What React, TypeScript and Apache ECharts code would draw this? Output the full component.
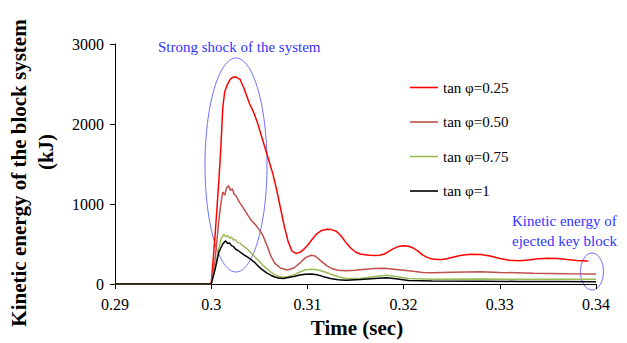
import React, { useEffect, useRef } from "react";
import * as echarts from "echarts";

const seriesNames = ["tan φ=0.25", "tan φ=0.50", "tan φ=0.75", "tan φ=1"];
const seriesColors = ["#ff0000", "#c0504d", "#9bbb59", "#000000"];

const xTicks = [0.29, 0.3, 0.31, 0.32, 0.33, 0.34];
const yTicks = [0, 1000, 2000, 3000];

const t025 = [0.29, 0.3, 0.3004, 0.3008, 0.301, 0.3012, 0.3014, 0.3016, 0.3018, 0.302, 0.3022, 0.3024, 0.3026, 0.3028, 0.303, 0.3032, 0.3034, 0.3036, 0.304, 0.3044, 0.3048, 0.3052, 0.3056, 0.306, 0.3064, 0.3068, 0.3072, 0.3076, 0.308, 0.3084, 0.3088, 0.3092, 0.3096, 0.31, 0.3105, 0.311, 0.3115, 0.312, 0.3125, 0.313, 0.3135, 0.314, 0.3145, 0.315, 0.3155, 0.316, 0.3165, 0.317, 0.3175, 0.318, 0.3185, 0.319, 0.3195, 0.32, 0.3205, 0.321, 0.3215, 0.322, 0.3225, 0.323, 0.3235, 0.324, 0.3245, 0.325, 0.326, 0.327, 0.328, 0.329, 0.33, 0.331, 0.332, 0.333, 0.334, 0.335, 0.336, 0.337, 0.338, 0.3392];
const v025 = [0, 0, 600, 1300, 1700, 2200, 2400, 2470, 2520, 2560, 2580, 2590, 2585, 2570, 2560, 2500, 2450, 2380, 2250, 2150, 2020, 1860, 1700, 1540, 1380, 1180, 950, 720, 530, 410, 382, 395, 430, 480, 560, 630, 670, 685, 680, 660, 600, 520, 450, 400, 375, 365, 358, 355, 360, 375, 410, 445, 470, 478, 472, 450, 410, 360, 330, 312, 305, 306, 315, 330, 360, 372, 370, 350, 320, 298, 292, 300, 315, 321, 318, 305, 293, 287];

const t050 = [0.29, 0.3, 0.3004, 0.3008, 0.301, 0.3012, 0.3014, 0.3016, 0.3018, 0.302, 0.3022, 0.3024, 0.3026, 0.3028, 0.303, 0.3034, 0.3038, 0.3042, 0.3046, 0.305, 0.3054, 0.3058, 0.3062, 0.3066, 0.3072, 0.3079, 0.3086, 0.3092, 0.3098, 0.3104, 0.3108, 0.3114, 0.312, 0.3126, 0.3132, 0.314, 0.315, 0.316, 0.317, 0.318, 0.319, 0.32, 0.321, 0.322, 0.323, 0.325, 0.328, 0.33, 0.3335, 0.337, 0.34];
const v050 = [0, 0, 300, 800, 1000, 1150, 1110, 1200, 1230, 1170, 1190, 1120, 1100, 1050, 1010, 940, 860, 790, 740, 680, 600, 480, 350, 260, 200, 175, 200, 260, 330, 360, 350, 290, 230, 190, 172, 166, 172, 185, 195, 198, 185, 172, 158, 145, 141, 148, 154, 145, 134, 128, 125];

const t075 = [0.29, 0.3, 0.3004, 0.3008, 0.301, 0.3013, 0.3015, 0.3017, 0.3019, 0.3021, 0.3023, 0.3025, 0.3027, 0.303, 0.3034, 0.3038, 0.3042, 0.3046, 0.305, 0.3054, 0.3058, 0.3062, 0.3066, 0.307, 0.3075, 0.308, 0.3086, 0.3092, 0.3098, 0.3104, 0.311, 0.3116, 0.3124, 0.3132, 0.314, 0.3155, 0.317, 0.3182, 0.3192, 0.3205, 0.323, 0.328, 0.332, 0.336, 0.34];
const v075 = [0, 0, 200, 450, 555, 620, 590, 605, 575, 585, 550, 555, 520, 508, 470, 430, 380, 330, 285, 230, 190, 150, 118, 95, 85, 95, 115, 150, 178, 184, 178, 160, 125, 90, 70, 68, 95, 110, 95, 70, 58, 62, 58, 60, 58];

const t100 = [0.29, 0.3, 0.3004, 0.3008, 0.3012, 0.3015, 0.3017, 0.3019, 0.3021, 0.3023, 0.3025, 0.3027, 0.303, 0.3034, 0.3038, 0.3042, 0.3046, 0.305, 0.3054, 0.3058, 0.3062, 0.3066, 0.307, 0.3075, 0.308, 0.3086, 0.3092, 0.3098, 0.3104, 0.311, 0.3116, 0.3124, 0.3132, 0.314, 0.3155, 0.317, 0.3182, 0.3192, 0.3205, 0.323, 0.328, 0.332, 0.336, 0.34];
const v100 = [0, 0, 180, 400, 500, 540, 505, 515, 480, 470, 440, 425, 400, 365, 335, 300, 260, 210, 170, 135, 110, 88, 76, 70, 80, 95, 112, 122, 124, 115, 95, 70, 52, 48, 55, 70, 78, 65, 45, 36, 35, 32, 30, 28];

const seriesTimes = [t025, t050, t075, t100];
const seriesValues = [v025, v050, v075, v100];

const FAMILY = "'Liberation Serif', serif";
const ANNO = "#3333ff";
const RING = "#6f6fff";

export default function App() {
  const ref = useRef<HTMLDivElement>(null);
  useEffect(() => {
    if (!ref.current) return;
    const chart = echarts.init(ref.current, null, { renderer: "svg" });
    chart.setOption({
      animation: false,
      backgroundColor: "#ffffff",
      textStyle: { fontFamily: FAMILY },
      grid: { left: 115, right: 31, top: 44, bottom: 59, containLabel: false },
      legend: {
        orient: "vertical",
        left: 410,
        top: 80,
        padding: 0,
        itemWidth: 28,
        itemHeight: 1.6,
        itemGap: 19.5,
        icon: "rect",
        textStyle: { fontFamily: FAMILY, fontSize: 15, color: "#000", lineHeight: 15 },
        data: seriesNames,
      },
      xAxis: {
        type: "value",
        min: xTicks[0],
        max: xTicks[xTicks.length - 1],
        interval: 0.01,
        splitLine: { show: false },
        axisLine: { lineStyle: { color: "#000", width: 1 } },
        axisTick: { show: true, length: 5, lineStyle: { color: "#000" } },
        axisLabel: {
          fontFamily: FAMILY,
          fontSize: 16,
          color: "#000",
          margin: 12,
          formatter: (v: number) => String(+v.toFixed(2)),
        },
      },
      yAxis: {
        type: "value",
        min: yTicks[0],
        max: yTicks[yTicks.length - 1],
        interval: 1000,
        splitLine: { show: false },
        axisLine: { show: true, lineStyle: { color: "#000", width: 1 } },
        axisTick: { show: true, length: 5, lineStyle: { color: "#000" } },
        axisLabel: {
          fontFamily: FAMILY,
          fontSize: 16,
          color: "#000",
          margin: 11,
          formatter: (v: number) => String(v),
        },
      },
      series: seriesNames.map((name, i) => ({
        name,
        type: "line",
        symbol: "none",
        color: seriesColors[i],
        lineStyle: { color: seriesColors[i], width: 1.5 },
        data: seriesTimes[i].map((t, k) => [t, seriesValues[i][k]]),
      })),
      graphic: [
        {
          type: "ellipse",
          shape: { cx: 236, cy: 165, rx: 31, ry: 107 },
          style: { fill: "none", stroke: RING, lineWidth: 1 },
          silent: true,
        },
        {
          type: "ellipse",
          shape: { cx: 592, cy: 271.5, rx: 11.5, ry: 18.5 },
          style: { fill: "none", stroke: RING, lineWidth: 1 },
          silent: true,
        },
        {
          type: "text",
          x: 158,
          y: 47,
          style: { text: "Strong shock of the system", font: `15px ${FAMILY}`, fill: ANNO, verticalAlign: "middle" },
        },
        {
          type: "text",
          x: 512,
          y: 221,
          style: { text: "Kinetic energy of", font: `15px ${FAMILY}`, fill: ANNO, verticalAlign: "middle" },
        },
        {
          type: "text",
          x: 512,
          y: 241,
          style: { text: "ejected key block", font: `15px ${FAMILY}`, fill: ANNO, verticalAlign: "middle" },
        },
        {
          type: "text",
          x: 357,
          y: 328,
          style: { text: "Time (sec)", font: `bold 21px ${FAMILY}`, fill: "#000", align: "center", verticalAlign: "middle" },
        },
        {
          type: "text",
          x: 19,
          y: 173,
          rotation: Math.PI / 2,
          style: { text: "Kinetic energy of the block system", font: `bold 21px ${FAMILY}`, fill: "#000", align: "center", verticalAlign: "middle" },
        },
        {
          type: "text",
          x: 46,
          y: 152,
          rotation: Math.PI / 2,
          style: { text: "(kJ)", font: `bold 21px ${FAMILY}`, fill: "#000", align: "center", verticalAlign: "middle" },
        },
      ],
    });
    return () => chart.dispose();
  }, []);
  return <div ref={ref} style={{ width: 627, height: 343, position: "absolute", left: 0, top: 0 }} />;
}
